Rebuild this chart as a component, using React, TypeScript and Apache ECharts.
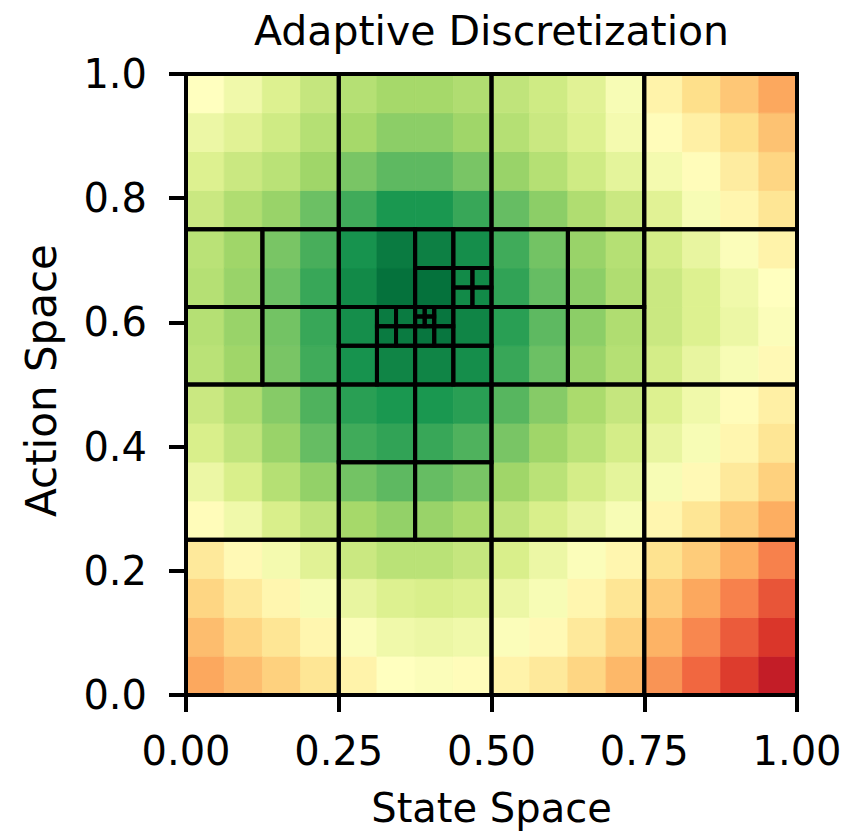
import React, { useEffect, useRef } from 'react';
import * as echarts from 'echarts';

const titleText = 'Adaptive Discretization';
const xLabelText = 'State Space';
const yLabelText = 'Action Space';

const xTickStep = 0.25;
const yTickStep = 0.2;

// Cells (x0, y0, size) that the adaptive partition refined into four children
const refinedCells: [number, number, number][] = [
  [0, 0, 1],
  [0, 0, 0.5],
  [0.5, 0, 0.5],
  [0, 0.5, 0.5],
  [0.5, 0.5, 0.5],
  [0, 0.5, 0.25],
  [0.25, 0.5, 0.25],
  [0.5, 0.5, 0.25],
  [0.25, 0.25, 0.25],
  [0.25, 0.5, 0.125],
  [0.375, 0.5, 0.125],
  [0.375, 0.625, 0.125],
  [0.3125, 0.5625, 0.0625],
  [0.375, 0.5625, 0.0625],
  [0.4375, 0.625, 0.0625],
  [0.375, 0.59375, 0.03125],
];

// Background value field (colormap position 0..1), 16 x 16 cells, rows from bottom (y=0) to top (y=1)
const heatRows: number[][] = [
  [0.29, 0.33, 0.37, 0.42, 0.46, 0.50, 0.51, 0.49, 0.46, 0.43, 0.38, 0.32, 0.26, 0.19, 0.12, 0.06],
  [0.33, 0.38, 0.42, 0.47, 0.51, 0.54, 0.55, 0.54, 0.51, 0.48, 0.43, 0.37, 0.31, 0.24, 0.17, 0.11],
  [0.38, 0.43, 0.47, 0.52, 0.56, 0.59, 0.60, 0.59, 0.55, 0.52, 0.47, 0.42, 0.36, 0.29, 0.23, 0.16],
  [0.43, 0.48, 0.53, 0.58, 0.63, 0.66, 0.66, 0.64, 0.60, 0.55, 0.51, 0.47, 0.41, 0.36, 0.30, 0.23],
  [0.49, 0.54, 0.60, 0.65, 0.70, 0.73, 0.72, 0.69, 0.65, 0.60, 0.56, 0.52, 0.47, 0.42, 0.36, 0.30],
  [0.55, 0.60, 0.67, 0.73, 0.78, 0.81, 0.80, 0.77, 0.71, 0.66, 0.61, 0.57, 0.52, 0.48, 0.43, 0.37],
  [0.60, 0.65, 0.72, 0.80, 0.85, 0.87, 0.86, 0.83, 0.77, 0.71, 0.66, 0.61, 0.56, 0.52, 0.47, 0.42],
  [0.63, 0.68, 0.75, 0.83, 0.88, 0.90, 0.90, 0.88, 0.82, 0.75, 0.69, 0.64, 0.59, 0.54, 0.49, 0.45],
  [0.66, 0.71, 0.77, 0.85, 0.91, 0.94, 0.94, 0.92, 0.86, 0.79, 0.72, 0.67, 0.61, 0.56, 0.52, 0.48],
  [0.67, 0.72, 0.78, 0.86, 0.92, 0.96, 0.97, 0.94, 0.88, 0.81, 0.74, 0.68, 0.63, 0.59, 0.55, 0.51],
  [0.67, 0.72, 0.79, 0.86, 0.93, 0.98, 0.98, 0.93, 0.87, 0.80, 0.74, 0.68, 0.63, 0.59, 0.54, 0.50],
  [0.66, 0.71, 0.77, 0.84, 0.91, 0.96, 0.95, 0.92, 0.85, 0.78, 0.72, 0.67, 0.61, 0.56, 0.51, 0.46],
  [0.63, 0.68, 0.72, 0.79, 0.85, 0.90, 0.90, 0.86, 0.80, 0.74, 0.68, 0.63, 0.58, 0.52, 0.47, 0.42],
  [0.59, 0.63, 0.66, 0.71, 0.77, 0.81, 0.81, 0.77, 0.72, 0.67, 0.62, 0.57, 0.53, 0.49, 0.44, 0.38],
  [0.55, 0.58, 0.62, 0.67, 0.70, 0.74, 0.74, 0.71, 0.67, 0.63, 0.59, 0.53, 0.49, 0.45, 0.40, 0.34],
  [0.50, 0.54, 0.59, 0.64, 0.67, 0.70, 0.70, 0.68, 0.65, 0.62, 0.58, 0.52, 0.46, 0.40, 0.35, 0.29],
];

const rdYlGn = [
  '#a50026', '#d73027', '#f46d43', '#fdae61', '#fee08b', '#ffffbf',
  '#d9ef8b', '#a6d96a', '#66bd63', '#1a9850', '#006837',
];

const FONT = 'DejaVu Sans';

function isRefined(x: number, y: number, s: number): boolean {
  return refinedCells.some(
    (c) => Math.abs(c[0] - x) < 1e-9 && Math.abs(c[1] - y) < 1e-9 && Math.abs(c[2] - s) < 1e-9
  );
}

function collectLeaves(x: number, y: number, s: number, out: number[][]) {
  if (isRefined(x, y, s)) {
    const h = s / 2;
    collectLeaves(x, y, h, out);
    collectLeaves(x + h, y, h, out);
    collectLeaves(x, y + h, h, out);
    collectLeaves(x + h, y + h, h, out);
  } else {
    out.push([x, y, x + s, y + s]);
  }
}

export default function App() {
  const ref = useRef<HTMLDivElement>(null);

  useEffect(() => {
    if (!ref.current) return;
    const chart = echarts.init(ref.current, undefined, { renderer: 'svg' });

    const nY = heatRows.length;
    const nX = heatRows[0].length;
    const heatData: number[][] = [];
    heatRows.forEach((row, j) => {
      row.forEach((v, i) => {
        heatData.push([i / nX, j / nY, (i + 1) / nX, (j + 1) / nY, v]);
      });
    });

    const leaves: number[][] = [];
    collectLeaves(0, 0, 1, leaves);

    const rectItem = (api: any, style: any) => {
      const p0 = api.coord([api.value(0), api.value(1)]);
      const p1 = api.coord([api.value(2), api.value(3)]);
      return {
        type: 'rect',
        shape: { x: p0[0], y: p1[1], width: p1[0] - p0[0], height: p0[1] - p1[1] },
        style,
      };
    };

    const gridLeft = 186;
    const gridTop = 74;
    const gridW = 611;
    const gridH = 621;

    chart.setOption({
      animation: false,
      backgroundColor: '#ffffff',
      grid: { left: gridLeft, top: gridTop, width: gridW, height: gridH, containLabel: false },
      xAxis: {
        type: 'value',
        min: 0,
        max: 1,
        interval: xTickStep,
        axisLine: { show: true, onZero: false, lineStyle: { color: '#000', width: 4 } },
        axisTick: { show: true, length: 17, lineStyle: { color: '#000', width: 4 } },
        axisLabel: {
          formatter: (v: number) => v.toFixed(2),
          fontSize: 40,
          fontFamily: FONT,
          color: '#000',
          margin: 36,
        },
        splitLine: { show: false },
      },
      yAxis: {
        type: 'value',
        min: 0,
        max: 1,
        interval: yTickStep,
        axisLine: { show: true, onZero: false, lineStyle: { color: '#000', width: 4 } },
        axisTick: { show: true, length: 17, lineStyle: { color: '#000', width: 4 } },
        axisLabel: {
          formatter: (v: number) => v.toFixed(1),
          fontSize: 40,
          fontFamily: FONT,
          color: '#000',
          margin: 39,
        },
        splitLine: { show: false },
      },
      visualMap: {
        show: false,
        type: 'continuous',
        min: 0,
        max: 1,
        dimension: 4,
        seriesIndex: 0,
        inRange: { color: rdYlGn },
      },
      series: [
        {
          type: 'custom',
          name: 'value',
          data: heatData,
          encode: { x: [0, 2], y: [1, 3] },
          renderItem: (_params: any, api: any) => {
            const color = api.visual('color');
            return rectItem(api, { fill: color, stroke: color, lineWidth: 0.8 });
          },
          z: 1,
        },
        {
          type: 'custom',
          name: 'partition',
          data: leaves,
          encode: { x: [0, 2], y: [1, 3] },
          renderItem: (_params: any, api: any) =>
            rectItem(api, { fill: 'none', stroke: '#000', lineWidth: 4 }),
          z: 3,
        },
      ],
      graphic: [
        {
          type: 'text',
          x: gridLeft + gridW / 2,
          y: 31,
          style: {
            text: titleText,
            fontSize: 41,
            fontFamily: FONT,
            fill: '#000',
            textAlign: 'center',
            textVerticalAlign: 'middle',
          },
        },
        {
          type: 'text',
          x: gridLeft + gridW / 2,
          y: 808,
          style: {
            text: xLabelText,
            fontSize: 40,
            fontFamily: FONT,
            fill: '#000',
            textAlign: 'center',
            textVerticalAlign: 'middle',
          },
        },
        {
          type: 'text',
          x: 41,
          y: gridTop + gridH / 2 - 4,
          rotation: Math.PI / 2,
          style: {
            text: yLabelText,
            fontSize: 42,
            fontFamily: FONT,
            fill: '#000',
            textAlign: 'center',
            textVerticalAlign: 'middle',
          },
        },
      ],
    });

    return () => chart.dispose();
  }, []);

  return (
    <div
      ref={ref}
      style={{ position: 'fixed', left: 0, top: 0, width: 845, height: 831, background: '#fff' }}
    />
  );
}
